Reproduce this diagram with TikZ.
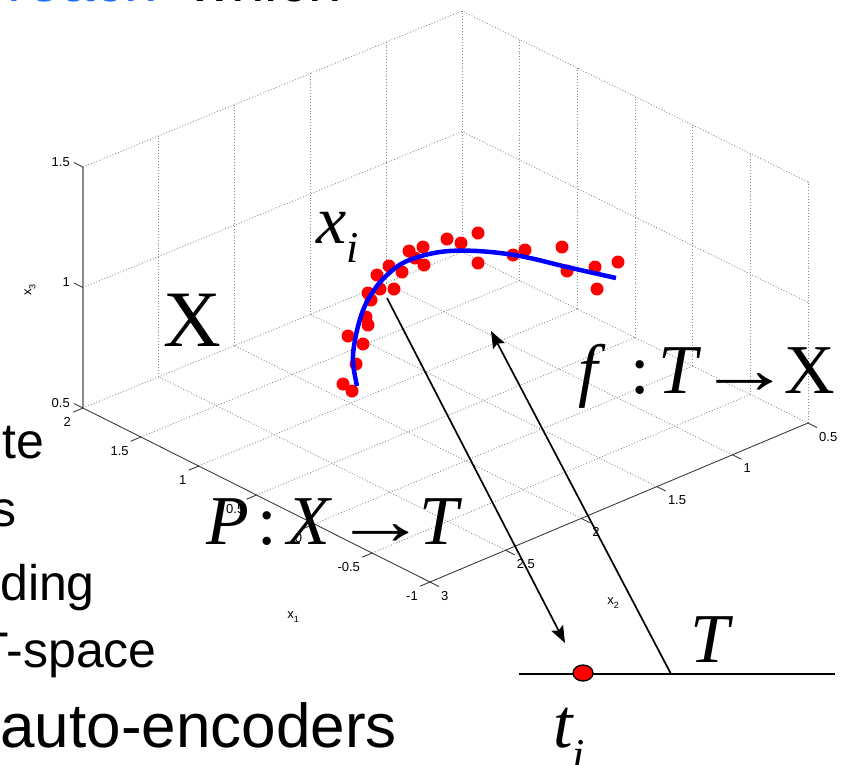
\documentclass[tikz,border=0pt]{standalone}
\usepackage{graphicx}
\usepackage{fontspec}
\setmainfont{Liberation Sans}
\newfontfamily\tms{Liberation Serif}
\usetikzlibrary{positioning,arrows.meta,calc,shapes.geometric}
\definecolor{pmRed}{HTML}{FF0000}
\definecolor{pmBlue}{HTML}{0000FF}
\definecolor{pmSlide}{HTML}{1A6EFF}
\definecolor{pmGrid}{HTML}{8C8C8C}
\definecolor{pmAxis}{HTML}{3C3C3C}
\definecolor{pmZAxis}{HTML}{8A8A8A}
\tikzset{
  pm-grid/.style={draw=pmGrid, line width=0.9pt, dotted},
  pm-axis/.style={draw=pmAxis, line width=0.9pt},
  pm-zaxis/.style={draw=pmZAxis, line width=1.4pt},
  pm-tick/.style={font=\fontsize{13}{15}\selectfont, inner sep=0pt},
  pm-dot/.style={circle, fill=pmRed, minimum size=13pt, inner sep=0pt},
  pm-curve/.style={draw=pmBlue, line width=4.5pt},
  pm-map/.style={-{Stealth[length=17pt,width=13pt,inset=3pt]},
    line width=1.7pt},
  pm-math/.style={font=\fontsize{70}{70}\selectfont\tms\itshape,
    inner sep=0pt, anchor=base west},
  pm-slide/.style={font=\fontsize{50}{50}\selectfont, inner sep=0pt,
    anchor=base east}
}
\newcommand{\pmsub}[2]{\raisebox{#1}{\fontsize{44}{44}\selectfont #2}}
\newcommand{\pmto}{\scalebox{1.35}[1]{→}}

\begin{document}
\begin{tikzpicture}[x=1pt,y=-1pt]
\useasboundingbox (0,0) rectangle (850,764);
\clip (0,0) rectangle (850,764);

% slide text cut by the crop
\node[pm-slide, font=\fontsize{60}{60}\selectfont, text=pmSlide]
  (head-a) at (158,1) {reach};
\node[pm-slide, font=\fontsize{60}{60}\selectfont, anchor=base west]
  (head-b) at (188,1) {which};
\node[pm-slide] (line-a) at (44,458) {te};
\node[pm-slide] (line-b) at (17,526) {s};
\node[pm-slide] (line-c) at (95,600) {ding};
\node[pm-slide] (line-d) at (157,667) {T-space};
\node[pm-slide, font=\fontsize{62}{62}\selectfont] (line-e)
  at (397,747) {auto-encoders};

% box corners (floor) and height of the z range
\coordinate (L) at (83,408);
\coordinate (F) at (430,582);
\coordinate (R) at (808,423);
\coordinate (B) at (462,252);

% floor and back walls
\foreach \k in {1,...,5}
  \draw[pm-grid] ($(F)!\k/5!(R)$) -- ($(L)!\k/5!(B)$);
\foreach \k in {0,...,5}
  \draw[pm-grid] ($(L)!\k/6!(F)$) -- ($(B)!\k/6!(R)$);
\foreach \k in {1,...,5}
  \draw[pm-grid] ($(L)!\k/5!(B)$) -- ++(0,-241);
\foreach \k in {1,...,6}
  \draw[pm-grid] ($(B)!\k/6!(R)$) -- ++(0,-241);
\foreach \h in {120.5,241}
  \draw[pm-grid] ($(L)+(0,-\h)$) -- ($(B)+(0,-\h)$) -- ($(R)+(0,-\h)$);

% axes and ticks
\draw[pm-axis] (L) -- (F) -- (R);
\draw[pm-zaxis] (L) -- ++(0,-241);
\foreach \k/\lab in {0/2,1/1.5,2/1,3/0.5,4/0,5/-0.5,6/-1} {
  \draw[pm-axis] ($(L)!\k/6!(F)$) -- ++(-10,4.2);
  \node[pm-tick, anchor=north east] (xa-\k) at ($(L)!\k/6!(F)+(-12,9)$)
    {\lab};
}
\foreach \k/\lab in {0/3,1/2.5,2/2,3/1.5,4/1,5/0.5} {
  \draw[pm-axis] ($(F)!\k/5!(R)$) -- ++(9,4.5);
  \node[pm-tick, anchor=north west] (xb-\k) at ($(F)!\k/5!(R)+(11,9)$)
    {\lab};
}
\foreach \h/\lab in {0/0.5,120.5/1,241/1.5} {
  \draw[pm-axis] ($(L)+(0,-\h)$) -- ++(-9,-4.5);
  \node[pm-tick, anchor=east] (xc-\lab) at ($(L)+(-13,-\h-5)$) {\lab};
}
\node[pm-tick] (lab-x1) at (293,617)
  {x\raisebox{-4pt}{\fontsize{9}{9}\selectfont 1}};
\node[pm-tick] (lab-x2) at (613,603)
  {x\raisebox{-4pt}{\fontsize{9}{9}\selectfont 2}};
\node[pm-tick, rotate=90] (lab-x3) at (30,290)
  {x\raisebox{-4pt}{\fontsize{9}{9}\selectfont 3}};

% data points and principal curve
\foreach \px/\py [count=\i] in {343/384,352/391,356/364,363/344,348/336,
  368/325,366/317,371/300,368/293,380/289,377/275,394/289,389/266,
  402/272,409/251,423/247,415/258,424/265,447/239,461/243,478/233,
  478/263,513/255,525/250,562/247,567/271,595/267,597/289,618/262}
  \node[pm-dot] (pt\i) at (\px,\py) {};
\draw[pm-curve] plot[smooth, tension=0.6] coordinates {(357,386) (353,362)
  (355,340) (362,313) (372,293) (387,275) (407,261) (440,252) (477,251)
  (520,256) (567,267) (616,278)};

% latent line T
\coordinate (t-left) at (519,674);
\coordinate (t-right) at (835,674);
\coordinate (f-foot) at (671,674);
\coordinate (f-tip) at (491,331);
\coordinate (p-from) at (387,298);
\coordinate (p-to) at (565,643);
\draw[line width=1.6pt] (t-left) -- (t-right);
\draw[pm-map] (p-from) -- (p-to);
\draw[pm-map] (f-foot) -- (f-tip);
\node[ellipse, draw, fill=pmRed, line width=1.3pt, minimum width=20pt,
  minimum height=16pt, inner sep=0pt] (ti) at (583,673) {};

% labels
\node[pm-math, font=\fontsize{80}{80}\selectfont\tms, anchor=center]
  (X-lab) at (192,320) {X};
\node[pm-math, font=\fontsize{68}{68}\selectfont\tms\itshape] (xi-lab)
  at (316,243) {x\pmsub{-19pt}{i}};
\node[pm-math] (ti-lab) at (553,747) {t\pmsub{-22pt}{i}};
\node[pm-math] (T-lab) at (690,662) {T};
\node[pm-math] (P-lab) at (206,544)
  {P\hspace{9pt}{\upshape:}\hspace{10pt}X\hspace{3pt}\pmto\hspace{-8pt}T};
\node[pm-math] (f-lab) at (578,393)
  {f\hspace{33pt}{\upshape:}\hspace{8pt}T\hspace{0pt}\pmto\hspace{-7pt}{\upshape X}};
\end{tikzpicture}
\end{document}
